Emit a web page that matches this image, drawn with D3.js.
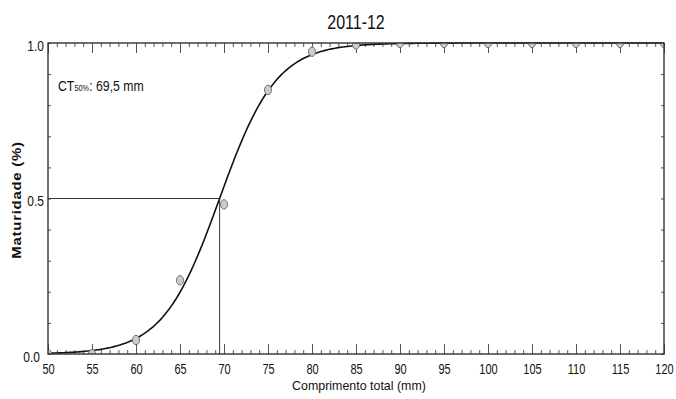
<!DOCTYPE html>
<html>
<head>
<meta charset="utf-8">
<script src="https://cdn.jsdelivr.net/npm/d3@7"></script>
<style>
  body { margin: 0; background: #fff; }
  svg { display: block; }
  text { font-family: "Liberation Sans", Arial, sans-serif; fill: #111; }
</style>
</head>
<body>
<svg id="chart" width="676" height="399"></svg>
<script>
// Observed maturity proportions by total length class
const title = "2011-12";
const lengths = [50, 55, 60, 65, 70, 75, 80, 85, 90, 95, 100, 105, 110, 115, 120];
const maturity = [0, 0, 0.045, 0.237, 0.481, 0.849, 0.972, 0.995, 1, 1, 1, 1, 1, 1, 1];
const xTickValues = [50, 55, 60, 65, 70, 75, 80, 85, 90, 95, 100, 105, 110, 115, 120];
const yTickValues = [0, 0.5, 1];
const yTickLabels = ["0.0", "0.5", "1.0"];
const xLabel = "Comprimento total (mm)";
const yLabel = "Maturidade (%)";

// Logistic ogive parameters: length at 50% maturity and slope
const ct50 = 69.5;
const ogiveSlope = 0.31;
const ct50Text = ": 69,5 mm";

const W = 676, H = 399;
const m = { top: 43, right: 12, bottom: 45, left: 48 };
const svg = d3.select("#chart");

const x = d3.scaleLinear().domain([50, 120]).range([m.left, W - m.right]);
const y = d3.scaleLinear().domain([0, 1]).range([H - m.bottom, m.top]);
const x0 = x.range()[0], x1 = x.range()[1], y0 = y.range()[0], y1 = y.range()[1];

svg.append("clipPath").attr("id", "plot-clip")
  .append("rect").attr("x", x0).attr("y", y1).attr("width", x1 - x0).attr("height", y0 - y1);

const tickColor = "#555";
function styleTicks(g) {
  g.select(".domain").remove();
  g.selectAll("line").attr("stroke", tickColor).attr("stroke-width", 1);
}

// minor ticks, every 1 mm, pointing inward on top and bottom
const minorX = d3.range(50, 121, 1);
svg.append("g").attr("transform", `translate(0,${y0})`)
  .call(d3.axisBottom(x).tickValues(minorX).tickSizeInner(-4).tickSizeOuter(0).tickFormat(""))
  .call(styleTicks);
svg.append("g").attr("transform", `translate(0,${y1})`)
  .call(d3.axisTop(x).tickValues(minorX).tickSizeInner(-4).tickSizeOuter(0).tickFormat(""))
  .call(styleTicks);

// major ticks every 5 mm, with labels at the bottom
const xAxis = svg.append("g").attr("transform", `translate(0,${y0})`)
  .call(d3.axisBottom(x).tickValues(xTickValues).tickSizeInner(-10).tickSizeOuter(0))
  .call(styleTicks);
xAxis.selectAll("text")
  .attr("y", 20.5).attr("dy", null)
  .attr("transform", "scale(0.76,1)")
  .style("font-size", "14.5px").attr("fill", "#111");
svg.append("g").attr("transform", `translate(0,${y1})`)
  .call(d3.axisTop(x).tickValues(xTickValues).tickSizeInner(-10).tickSizeOuter(0).tickFormat(""))
  .call(styleTicks);

// minor ticks every 0.1 on left and right sides
const minorY = d3.range(0, 11).map(i => i / 10);
svg.append("g").attr("transform", `translate(${x0},0)`)
  .call(d3.axisLeft(y).tickValues(minorY).tickSizeInner(-3).tickSizeOuter(0).tickFormat(""))
  .call(styleTicks);
svg.append("g").attr("transform", `translate(${x1},0)`)
  .call(d3.axisRight(y).tickValues(minorY).tickSizeInner(-3).tickSizeOuter(0).tickFormat(""))
  .call(styleTicks);

// y tick labels
const yAxis = svg.append("g").attr("transform", `translate(${x0},0)`)
  .call(d3.axisLeft(y).tickValues(yTickValues).tickSize(0)
    .tickFormat((d, i) => yTickLabels[i]))
  .call(styleTicks);
yAxis.selectAll("text")
  .attr("x", (d, i) => (i === 0 ? -8 : -4) / 0.8)
  .attr("y", 2.5)
  .attr("dy", "0.32em")
  .attr("transform", "scale(0.8,1)")
  .style("font-size", "15px").attr("fill", "#111");

// reference lines at 50% maturity
svg.append("path")
  .attr("d", `M${x0},${y(0.5)}H${x(ct50)}V${y0}`)
  .attr("fill", "none").attr("stroke", "#3a3a3a").attr("stroke-width", 1);

// fitted ogive
const curveX = d3.range(50, 120.001, 0.25);
const ogive = L => 1 / (1 + Math.exp(-ogiveSlope * (L - ct50)));
svg.append("path")
  .datum(curveX)
  .attr("d", d3.line().x(d => x(d)).y(d => y(ogive(d))))
  .attr("fill", "none").attr("stroke", "#111").attr("stroke-width", 1.6);

// observed proportions
svg.append("g").attr("clip-path", "url(#plot-clip)")
  .selectAll("ellipse").data(lengths).join("ellipse")
  .attr("cx", d => x(d))
  .attr("cy", (d, i) => y(maturity[i]))
  .attr("rx", 3.5).attr("ry", 4.7)
  .attr("fill", "#cccccc").attr("stroke", "#6f6f6f").attr("stroke-width", 1);

// frame
svg.append("rect")
  .attr("x", x0).attr("y", y1).attr("width", x1 - x0).attr("height", y0 - y1)
  .attr("fill", "none").attr("stroke", "#333").attr("stroke-width", 1.4);

// title
svg.append("text")
  .attr("transform", `translate(${(x0 + x1) / 2},29) scale(0.8,1)`)
  .attr("text-anchor", "middle")
  .style("font-size", "20px")
  .text(title);

// axis titles
svg.append("text")
  .attr("transform", `translate(359,390) scale(0.92,1)`)
  .attr("text-anchor", "middle")
  .style("font-size", "13.5px")
  .text(xLabel);

svg.append("text")
  .attr("transform", `translate(21,200) rotate(-90) scale(1,0.8)`)
  .attr("text-anchor", "middle")
  .style("font-size", "15px").style("font-weight", "bold")
  .style("letter-spacing", "0.7px")
  .attr("fill", "#222")
  .text(yLabel);

// CT50% annotation
const ann = svg.append("text")
  .attr("transform", "translate(58,90.5) scale(0.82,1)")
  .style("font-size", "15px");
ann.append("tspan").text("CT");
ann.append("tspan").style("font-size", "9px").text("50%");
ann.append("tspan").text(ct50Text);
</script>
</body>
</html>
